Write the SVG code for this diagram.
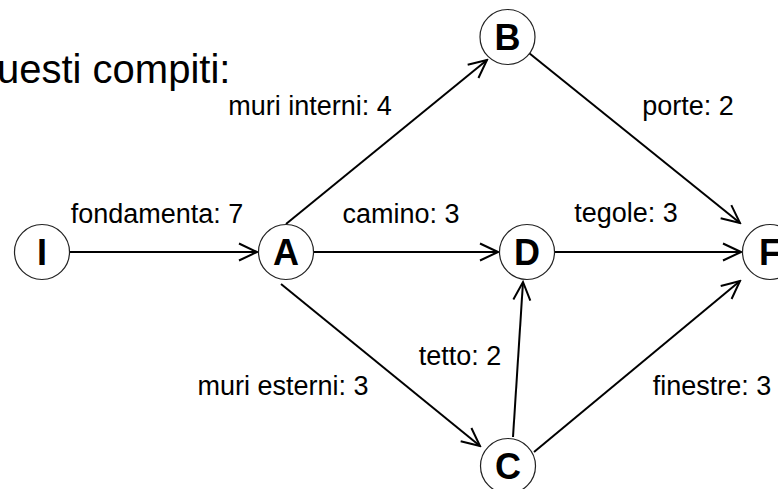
<svg xmlns="http://www.w3.org/2000/svg" width="778" height="489" viewBox="0 0 778 489">
  <style>
    .node circle { fill: #fff; stroke: #222; stroke-width: 1.2; }
    .node text { font-family: "Liberation Sans", Arial, sans-serif; font-weight: bold; font-size: 36px; text-anchor: middle; fill: #000; }
    .edge { stroke: #000; stroke-width: 2; fill: none; marker-end: url(#arrow); }
    .lbl { font-family: "Liberation Sans", Arial, sans-serif; font-size: 27px; fill: #000; text-anchor: middle; }
    .title { font-family: "Liberation Sans", Arial, sans-serif; font-size: 40px; fill: #000; }
  </style>
  <defs>
    <marker id="arrow" markerUnits="userSpaceOnUse" viewBox="-20 -11 22 22" refX="0" refY="0" markerWidth="22" markerHeight="22" orient="auto">
      <path d="M-18,-8.5 L0,0 L-18,8.5" fill="none" stroke="#000" stroke-width="2"/>
    </marker>
  </defs>
  <rect width="778" height="489" fill="#fff"/>

  <text class="title" x="-3" y="83">uesti compiti:</text>

  <g id="connectors">
    <line class="edge" x1="70" y1="252" x2="257" y2="252"/>
    <line class="edge" x1="286" y1="224" x2="487" y2="60"/>
    <line class="edge" x1="314" y1="252" x2="498" y2="252"/>
    <line class="edge" x1="281" y1="284" x2="480" y2="446"/>
    <line class="edge" x1="529" y1="53" x2="740" y2="223"/>
    <line class="edge" x1="555" y1="252" x2="741" y2="252"/>
    <line class="edge" x1="513" y1="437" x2="523" y2="282"/>
    <line class="edge" x1="534" y1="452" x2="740" y2="281"/>
  </g>

  <g id="labels">
    <text class="lbl" x="157" y="223">fondamenta: 7</text>
    <text class="lbl" x="310" y="115">muri interni: 4</text>
    <text class="lbl" x="401" y="223">camino: 3</text>
    <text class="lbl" x="626" y="222">tegole: 3</text>
    <text class="lbl" x="688" y="115">porte: 2</text>
    <text class="lbl" x="460" y="365">tetto: 2</text>
    <text class="lbl" x="283" y="395">muri esterni: 3</text>
    <text class="lbl" x="712" y="395">finestre: 3</text>
  </g>

  <g id="node-I" class="node"><circle cx="42" cy="252" r="27.5"/><text x="42" y="265">I</text></g>
  <g id="node-A" class="node"><circle cx="286" cy="252" r="27.5"/><text x="286" y="265">A</text></g>
  <g id="node-B" class="node"><circle cx="507.5" cy="37" r="27.5"/><text x="507.5" y="50">B</text></g>
  <g id="node-D" class="node"><circle cx="527" cy="252" r="27.5"/><text x="527" y="265">D</text></g>
  <g id="node-F" class="node"><circle cx="770" cy="252" r="27.5"/><text x="770" y="265">F</text></g>
  <g id="node-C" class="node"><circle cx="508" cy="466" r="27.5"/><text x="508" y="479">C</text></g>
</svg>
